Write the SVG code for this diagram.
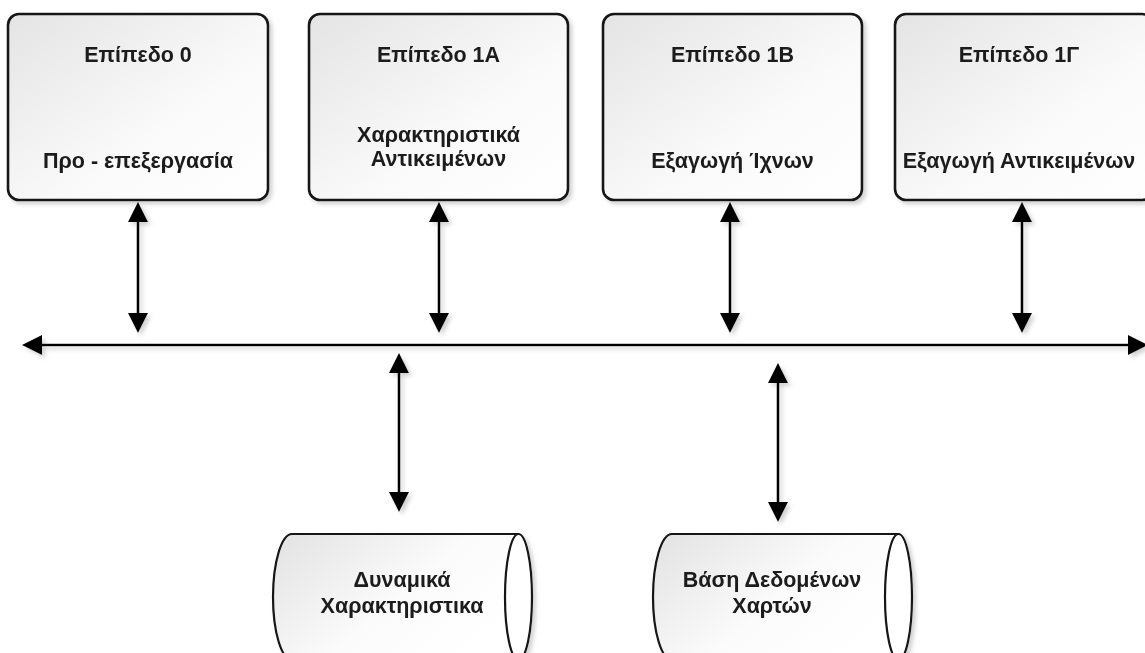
<svg xmlns="http://www.w3.org/2000/svg" width="1145" height="653" viewBox="0 0 1145 653">
  <defs>
    <linearGradient id="fillBox" x1="0" y1="0" x2="1" y2="1">
      <stop offset="0" stop-color="#e4e4e4"/>
      <stop offset="0.6" stop-color="#fafafa"/>
      <stop offset="1" stop-color="#ffffff"/>
    </linearGradient>
    <linearGradient id="fillCyl" x1="0" y1="0" x2="1" y2="0.6">
      <stop offset="0" stop-color="#e2e2e2"/>
      <stop offset="0.6" stop-color="#fbfbfb"/>
      <stop offset="1" stop-color="#ffffff"/>
    </linearGradient>
    <filter id="shadow" x="-10%" y="-10%" width="130%" height="130%">
      <feGaussianBlur in="SourceAlpha" stdDeviation="2"/>
      <feOffset dx="3" dy="3" result="blur"/>
      <feFlood flood-color="#9a9a9a" flood-opacity="0.45"/>
      <feComposite in2="blur" operator="in" result="sh"/>
      <feMerge>
        <feMergeNode in="sh"/>
        <feMergeNode in="SourceGraphic"/>
      </feMerge>
    </filter>
    <marker id="head" viewBox="0 0 20 20" markerUnits="userSpaceOnUse" markerWidth="20" markerHeight="20" refX="16" refY="10" orient="auto-start-reverse">
      <path d="M0,0 L20,10 L0,20 z" fill="#000"/>
    </marker>
  </defs>
  <style>
    .box { fill: url(#fillBox); stroke: #141414; stroke-width: 2.6; }
    .cyl { fill: url(#fillCyl); stroke: #141414; stroke-width: 2.2; }
    .cap { fill: #ffffff; stroke: #141414; stroke-width: 2.2; }
    .lbl { font-family: "Liberation Sans", Arial, sans-serif; font-weight: bold; font-size: 21.5px; fill: #1a1a1a; text-anchor: middle; }
    .wire { fill: none; stroke: #000; stroke-width: 2.6; marker-start: url(#head); marker-end: url(#head); }
  </style>

  <rect width="1145" height="653" fill="#ffffff"/>

  <!-- processing levels -->
  <g id="level0" filter="url(#shadow)">
    <rect class="box" x="8" y="14" width="260" height="186" rx="11"/>
    <text class="lbl" x="138" y="62">Επίπεδο 0</text>
    <text class="lbl" x="138" y="168">Προ - επεξεργασία</text>
  </g>
  <g id="level1A" filter="url(#shadow)">
    <rect class="box" x="309" y="14" width="259" height="186" rx="11"/>
    <text class="lbl" x="438.5" y="62">Επίπεδο 1Α</text>
    <text class="lbl" x="438.5" y="142">Χαρακτηριστικά</text>
    <text class="lbl" x="438.5" y="166">Αντικειμένων</text>
  </g>
  <g id="level1B" filter="url(#shadow)">
    <rect class="box" x="603" y="14" width="259" height="186" rx="11"/>
    <text class="lbl" x="732.5" y="62">Επίπεδο 1Β</text>
    <text class="lbl" x="732.5" y="168">Εξαγωγή Ίχνων</text>
  </g>
  <g id="level1C" filter="url(#shadow)">
    <rect class="box" x="895" y="14" width="258" height="186" rx="11"/>
    <text class="lbl" x="1019" y="62">Επίπεδο 1Γ</text>
    <text class="lbl" x="1019" y="168">Εξαγωγή Αντικειμένων</text>
  </g>

  <!-- data stores -->
  <g id="dynamicFeatures" filter="url(#shadow)">
    <path class="cyl" d="M518,534 L292,534 A19,63 0 0 0 292,660 L518,660"/>
    <ellipse class="cap" cx="518.5" cy="597" rx="13.5" ry="63"/>
    <text class="lbl" x="402" y="587">Δυναμικά</text>
    <text class="lbl" x="402" y="613">Χαρακτηριστικα</text>
  </g>
  <g id="mapDatabase" filter="url(#shadow)">
    <path class="cyl" d="M898,534 L672,534 A19,63 0 0 0 672,660 L898,660"/>
    <ellipse class="cap" cx="898.5" cy="597" rx="13.5" ry="63"/>
    <text class="lbl" x="772" y="587">Βάση Δεδομένων</text>
    <text class="lbl" x="772" y="613">Χαρτών</text>
  </g>

  <!-- bus and links -->
  <g id="connectors" filter="url(#shadow)">
    <path class="wire" d="M26,345 L1144,345"/>
    <path class="wire" d="M138,206 L138,329"/>
    <path class="wire" d="M439,206 L439,329"/>
    <path class="wire" d="M730,206 L730,329"/>
    <path class="wire" d="M1022,206 L1022,329"/>
    <path class="wire" d="M399,357 L399,508"/>
    <path class="wire" d="M778,367 L778,518"/>
  </g>
</svg>
